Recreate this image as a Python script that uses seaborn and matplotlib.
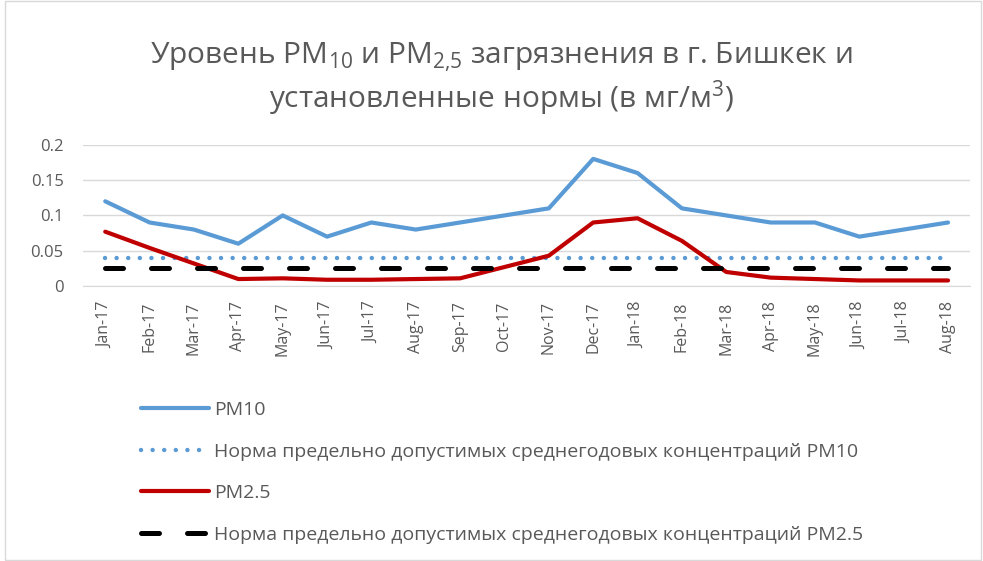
import pandas as pd
import seaborn as sns
import matplotlib.pyplot as plt
from matplotlib.patches import Rectangle

months = ["Jan-17", "Feb-17", "Mar-17", "Apr-17", "May-17", "Jun-17", "Jul-17", "Aug-17",
          "Sep-17", "Oct-17", "Nov-17", "Dec-17", "Jan-18", "Feb-18", "Mar-18", "Apr-18",
          "May-18", "Jun-18", "Jul-18", "Aug-18"]
pm10 = [0.12, 0.09, 0.08, 0.06, 0.10, 0.07, 0.09, 0.08, 0.09, 0.10,
        0.11, 0.18, 0.16, 0.11, 0.10, 0.09, 0.09, 0.07, 0.08, 0.09]
pm25 = [0.077, 0.054, 0.032, 0.010, 0.011, 0.009, 0.009, 0.010, 0.011, 0.027,
        0.043, 0.090, 0.096, 0.064, 0.020, 0.012, 0.010, 0.008, 0.008, 0.008]
norm_pm10 = [0.04] * len(months)
norm_pm25 = [0.025] * len(months)
yticks = [0, 0.05, 0.1, 0.15, 0.2]
ytick_labels = ["0", "0.05", "0.1", "0.15", "0.2"]

sns.set_style("white")
plt.rcParams['font.family'] = ['Open Sans', 'DejaVu Sans']
grey = "#595959"

df = pd.DataFrame({"x": range(len(months)), "pm10": pm10, "pm25": pm25,
                   "n10": norm_pm10, "n25": norm_pm25})

fig = plt.figure(figsize=(9.83, 5.61), dpi=100)
ax = fig.add_axes([0.0845, 0.49, 0.9025, 0.252])

sns.lineplot(data=df, x="x", y="pm10", ax=ax, color="#5b9bd5", lw=3, label="PM10",
             solid_capstyle="round")
sns.lineplot(data=df, x="x", y="n10", ax=ax, color="#5b9bd5", lw=3.2,
             label="Норма предельно допустимых среднегодовых концентраций PM10",
             linestyle=(0, (0.01, 2.6)), dash_capstyle="round")
sns.lineplot(data=df, x="x", y="pm25", ax=ax, color="#c00000", lw=3, label="PM2.5",
             solid_capstyle="round")
sns.lineplot(data=df, x="x", y="n25", ax=ax, color="black", lw=3.6,
             label="Норма предельно допустимых среднегодовых концентраций PM2.5",
             linestyle=(0, (3.6, 5.6)), dash_capstyle="round")

ax.set_xlim(-0.5, len(months) - 0.5)
ax.set_ylim(0, 0.2)
ax.set_yticks(yticks)
ax.set_yticklabels(ytick_labels)
ax.set_xticks(range(len(months)))
ax.set_xticklabels(months, rotation=90)
ax.set_xticks([i - 0.5 for i in range(len(months) + 1)], minor=True)
ax.tick_params(axis="x", which="major", length=0, labelsize=11.5, colors=grey, pad=11)
ax.tick_params(axis="x", which="minor", length=6, color="#d9d9d9", width=1)
ax.tick_params(axis="y", length=0, labelsize=12, colors=grey, pad=14)
ax.grid(axis="y", color="#d9d9d9", lw=1)
ax.set_axisbelow(True)
for s in ["top", "right", "left"]:
    ax.spines[s].set_visible(False)
ax.spines["bottom"].set_color("#d9d9d9")
ax.set_xlabel("")
ax.set_ylabel("")

handles, labels = ax.get_legend_handles_labels()
ax.get_legend().remove()
fig.legend(handles, labels, loc="upper left", bbox_to_anchor=(0.136, 0.299),
           frameon=False, fontsize=14, labelcolor=grey, handlelength=3.45,
           handletextpad=0.3, labelspacing=1.21, borderaxespad=0)

fig.text(0.51, 0.898, "Уровень PM$_\\mathregular{10}$ и PM$_\\mathregular{2{,}5}$ загрязнения в г. Бишкек и",
         ha="center", va="center", fontsize=21.5, color=grey)
fig.text(0.51, 0.823, "установленные нормы (в мг/м$^\\mathregular{3}$)",
         ha="center", va="center", fontsize=21.5, color=grey)

fig.patches.append(Rectangle((0.005, 0.002), 0.993, 0.996, transform=fig.transFigure,
                             fill=False, edgecolor="#d9d9d9", lw=1))

plt.savefig("out.png", dpi=100)
